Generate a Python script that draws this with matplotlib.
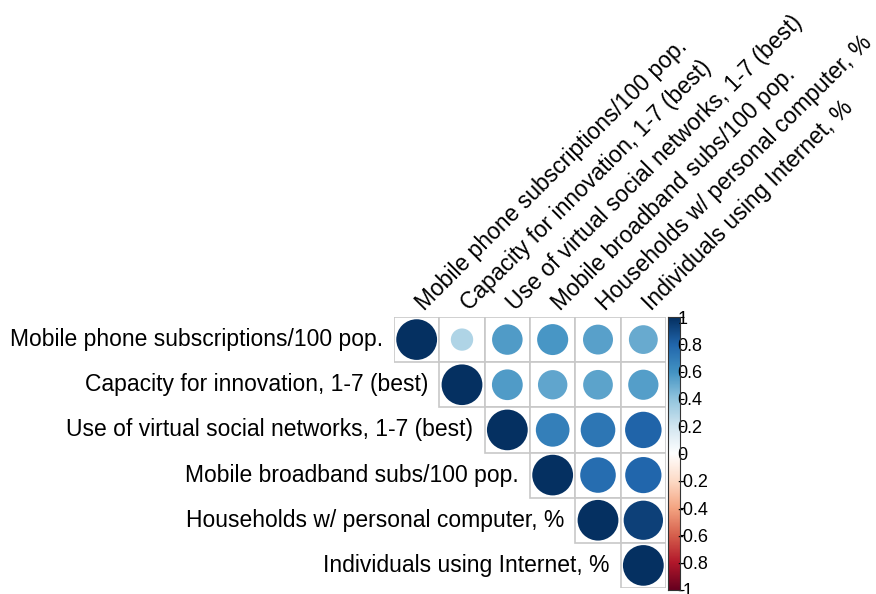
import numpy as np
import matplotlib
matplotlib.use("Agg")
import matplotlib.pyplot as plt
from matplotlib.patches import Circle, Rectangle
from matplotlib.colors import LinearSegmentedColormap

plt.rcParams['font.family'] = ['Liberation Sans', 'DejaVu Sans']

labels = [
    "Mobile phone subscriptions/100 pop.",
    "Capacity for innovation, 1-7 (best)",
    "Use of virtual social networks, 1-7 (best)",
    "Mobile broadband subs/100 pop.",
    "Households w/ personal computer, %",
    "Individuals using Internet, %",
]

# upper triangle of the correlation matrix, row by row
row1 = [1.00, 0.30, 0.56, 0.58, 0.54, 0.50]
row2 = [1.00, 0.57, 0.52, 0.53, 0.55]
row3 = [1.00, 0.68, 0.72, 0.80]
row4 = [1.00, 0.76, 0.79]
row5 = [1.00, 0.93]
row6 = [1.00]
rows = [row1, row2, row3, row4, row5, row6]

cbar_ticks = [-1, -0.8, -0.6, -0.4, -0.2, 0, 0.2, 0.4, 0.6, 0.8, 1]

n = len(labels)
corr = np.full((n, n), np.nan)
for i, r in enumerate(rows):
    corr[i, i:] = r
    corr[i:, i] = r

rdbu = ["#67001F", "#B2182B", "#D6604D", "#F4A582", "#FDDBC7", "#FFFFFF",
        "#D1E5F0", "#92C5DE", "#4393C3", "#2166AC", "#053061"]
cmap = LinearSegmentedColormap.from_list("corr", rdbu, N=200)

W, H = 876, 594
fig = plt.figure(figsize=(W / 100, H / 100), dpi=100)
fig.patch.set_facecolor("white")

gx0, gx1, gy0, gy1 = 394, 666, 317, 588
ax = fig.add_axes([gx0 / W, 1 - gy1 / H, (gx1 - gx0) / W, (gy1 - gy0) / H])
ax.set_xlim(0.5, n + 0.5)
ax.set_ylim(n + 0.5, 0.5)
ax.axis("off")

for i in range(n):
    for j in range(i, n):
        x, y = j + 1, i + 1
        ax.add_patch(Rectangle((x - 0.5, y - 0.5), 1, 1, facecolor="white",
                               edgecolor="#C8C8C8", linewidth=1.2))
        v = corr[i, j]
        rad = 0.45 * np.sqrt(abs(v))
        ax.add_patch(Circle((x, y), rad, facecolor=cmap((v + 1) / 2),
                            edgecolor="none"))

fs = 16.5
for i, lab in enumerate(labels):
    ax.text(i + 1 - 0.5 - 0.25, i + 1, lab, ha="right", va="center",
            fontsize=fs, color="black")
    ax.text(i + 1 + 0.17, 0.5 - 0.12, lab, ha="left", va="baseline",
            rotation=45, rotation_mode="anchor", fontsize=fs, color="black")

# colour legend
cx0, cx1, cy0, cy1 = 668, 680, 317, 590
cax = fig.add_axes([cx0 / W, 1 - cy1 / H, (cx1 - cx0) / W, (cy1 - cy0) / H])
grad = np.linspace(-1, 1, 200).reshape(-1, 1)
cax.imshow(grad, aspect="auto", cmap=cmap, origin="lower",
           extent=[0, 1, -1, 1], vmin=-1, vmax=1)
cax.set_xlim(0, 1)
cax.set_ylim(-1, 1)
cax.set_xticks([])
cax.yaxis.tick_right()
cax.set_yticks(cbar_ticks)
cax.set_yticklabels(["%g" % t for t in cbar_ticks])
cax.tick_params(axis="y", length=3, width=0.8, pad=-5, labelsize=13,
                direction="out")
for s in cax.spines.values():
    s.set_linewidth(0.8)
    s.set_color("#333333")

fig.savefig("out.png", dpi=100, facecolor="white")
